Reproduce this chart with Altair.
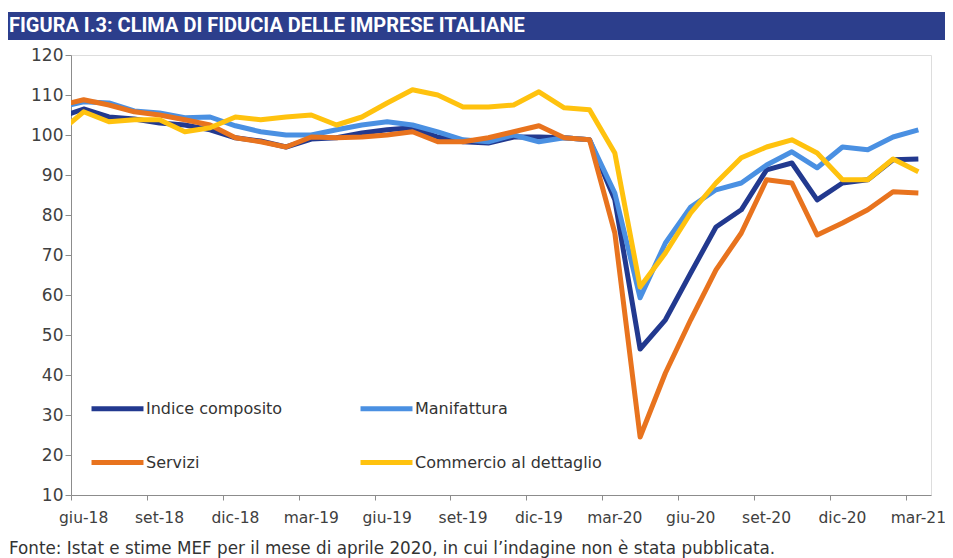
import altair as alt
import pandas as pd

# Months: index -1 = mag-18 (clipped at axis start), 0 = giu-18 ... 33 = mar-21
month_index = list(range(-1, 34))

indice_composito = [104.3,
    106.5, 104.5, 104.0, 103.0, 102.5, 101.3, 99.3, 98.5, 97.0, 99.0,
    99.3, 100.5, 101.3, 101.8, 99.5, 98.3, 98.0, 99.5, 99.5, 99.3,
    98.8, 83.8, 46.5, 53.8, 65.5, 77.0, 81.3, 91.3, 93.0, 83.8,
    88.0, 88.8, 93.8, 94.0]
manifattura = [106.8,
    108.3, 108.0, 106.0, 105.5, 104.3, 104.5, 102.3, 100.8, 100.0, 100.0,
    101.3, 102.5, 103.3, 102.5, 100.8, 98.8, 98.3, 100.0, 98.3, 99.3,
    98.8, 85.5, 59.3, 73.0, 82.0, 86.3, 88.0, 92.5, 95.8, 91.8,
    97.0, 96.3, 99.5, 101.3]
servizi = [107.3,
    108.8, 107.5, 105.8, 105.0, 103.8, 102.5, 99.3, 98.3, 97.0, 99.5,
    99.3, 99.5, 100.0, 100.8, 98.3, 98.3, 99.3, 100.8, 102.3, 99.3,
    98.8, 75.5, 24.5, 40.5, 53.8, 66.3, 75.5, 88.8, 88.0, 75.0,
    78.0, 81.3, 85.8, 85.5]
commercio = [100.5,
    105.8, 103.3, 103.8, 103.8, 100.8, 101.8, 104.5, 103.8, 104.5, 105.0,
    102.5, 104.5, 108.0, 111.3, 110.0, 107.0, 107.0, 107.5, 110.8, 106.8,
    106.3, 95.5, 62.0, 70.5, 80.5, 88.0, 94.3, 97.0, 98.8, 95.5,
    88.8, 88.8, 94.0, 90.8]

series_names = ["Indice composito", "Manifattura", "Servizi", "Commercio al dettaglio"]
series_colors = ["#22398f", "#4a90e2", "#e8731e", "#ffc20e"]
# legend is laid out column by column: this order gives rows
# (Indice composito, Manifattura) and (Servizi, Commercio al dettaglio)
legend_order = ["Indice composito", "Servizi", "Manifattura", "Commercio al dettaglio"]

tick_positions = [0, 3, 6, 9, 12, 15, 18, 21, 24, 27, 30, 33]
tick_labels = ["giu-18", "set-18", "dic-18", "mar-19", "giu-19", "set-19",
               "dic-19", "mar-20", "giu-20", "set-20", "dic-20", "mar-21"]

title_text = "FIGURA I.3: CLIMA DI FIDUCIA DELLE IMPRESE ITALIANE"
source_text = "Fonte: Istat e stime MEF per il mese di aprile 2020, in cui l\u2019indagine non \u00e8 stata pubblicata."

rows = []
for name, vals in zip(series_names, [indice_composito, manifattura, servizi, commercio]):
    for m, v in zip(month_index, vals):
        rows.append({"mese": m + 0.5, "valore": v, "serie": name})
df = pd.DataFrame(rows)

# month labels sit in the middle of their month, ticks at the start of the month
labels_df = pd.DataFrame({"mese": [p + 0.5 for p in tick_positions], "etichetta": tick_labels})

W, H = 860, 440
xscale = alt.Scale(domain=[0, 34], nice=False, zero=False)

lines = alt.Chart(df).mark_line(strokeWidth=5, clip=True, strokeJoin="round").encode(
    x=alt.X("mese:Q", scale=xscale,
            axis=alt.Axis(values=tick_positions, labels=False, title=None,
                          grid=False, domainColor="#8c8c8c", tickColor="#8c8c8c",
                          tickSize=5)),
    y=alt.Y("valore:Q", scale=alt.Scale(domain=[10, 120], nice=False, zero=False),
            axis=alt.Axis(values=list(range(10, 121, 10)), title=None, grid=False,
                          labelFont="DejaVu Sans", labelFontSize=17, labelColor="#404040",
                          domainColor="#8c8c8c", tickColor="#8c8c8c", tickSize=6,
                          labelPadding=2)),
    color=alt.Color("serie:N",
                    scale=alt.Scale(domain=series_names, range=series_colors),
                    legend=alt.Legend(orient="none", legendX=18, legendY=325, columns=2,
                                      values=legend_order,
                                      title=None, symbolType="stroke", symbolSize=2700,
                                      symbolStrokeWidth=5, labelFont="DejaVu Sans",
                                      labelFontSize=16, labelColor="#333333",
                                      labelLimit=400,
                                      labelOffset=0, columnPadding=67, rowPadding=15,
                                      padding=0)),
    detail="serie:N",
)

xlabels = alt.Chart(labels_df).mark_text(
    baseline="middle", align="center", font="DejaVu Sans", fontSize=15.5,
    color="#404040").encode(
    x=alt.X("mese:Q", scale=xscale), y=alt.value(H + 23), text="etichetta:N")

band = alt.Chart(pd.DataFrame({"t": [title_text]})).mark_rect(color="#2c3e8c").encode(
    x=alt.value(-63), x2=alt.value(W + 14), y=alt.value(-43), y2=alt.value(-15))

title = alt.Chart(pd.DataFrame({"t": [title_text]})).mark_text(
    align="left", baseline="middle", font="Roboto", fontWeight="bold", fontSize=20,
    color="white").encode(x=alt.value(-62), y=alt.value(-29), text="t:N")

source = alt.Chart(pd.DataFrame({"t": [source_text]})).mark_text(
    align="left", baseline="alphabetic", font="DejaVu Sans", fontSize=16.8,
    color="#333333").encode(x=alt.value(-62), y=alt.value(499), text="t:N")

chart = alt.layer(band, title, lines, xlabels, source).properties(
    width=W, height=H,
    autosize=alt.AutoSizeParams(type="none"),
    padding={"left": 63, "top": 47, "right": 14, "bottom": 63},
).configure_view(stroke=None).configure(background="white")

chart.save("out.html", embed_options={"renderer": "svg", "actions": False})
